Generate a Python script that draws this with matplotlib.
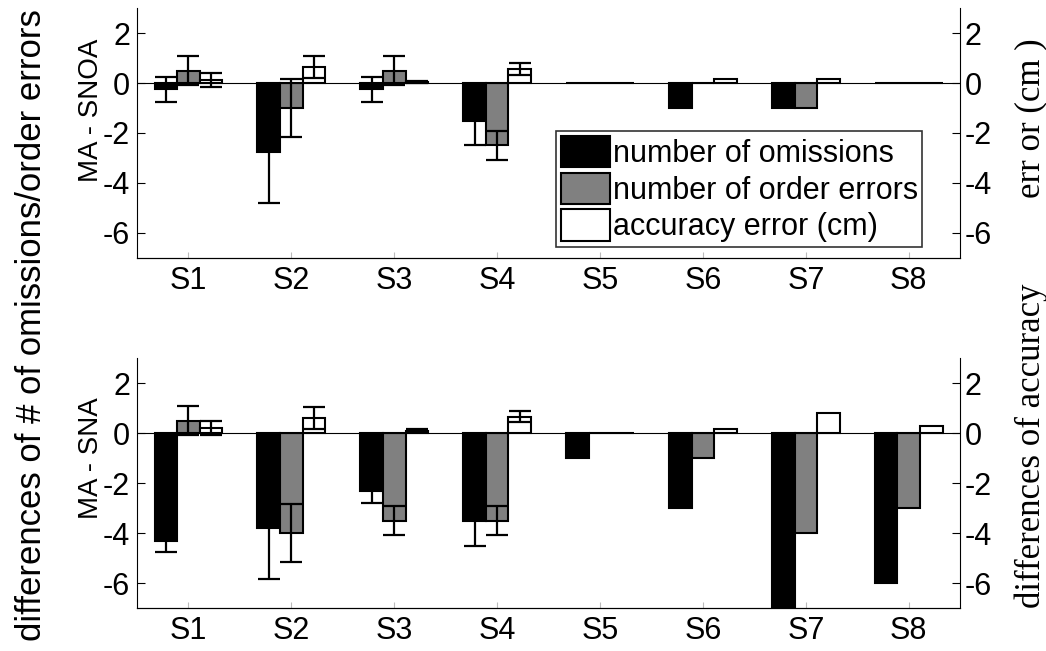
import matplotlib
matplotlib.use("Agg")
import matplotlib.pyplot as plt
import numpy as np
from matplotlib.patches import Patch

subjects = ["S1", "S2", "S3", "S4", "S5", "S6", "S7", "S8"]

# MA - SNOA (top)
snoa_omis = [-0.25, -2.75, -0.25, -1.5, 0, -1, -1, 0]
snoa_omis_err = [0.5, 2.05, 0.5, 1.0, 0, 0, 0, 0]
snoa_order = [0.5, -1.0, 0.5, -2.5, 0, 0, -1, 0]
snoa_order_err = [0.58, 1.15, 0.58, 0.58, 0, 0, 0, 0]
snoa_acc = [0.12, 0.65, 0.05, 0.55, 0.0, 0.15, 0.15, 0.0]
snoa_acc_err = [0.29, 0.45, 0.05, 0.24, 0, 0, 0, 0]

# MA - SNA (bottom)
sna_omis = [-4.3, -3.8, -2.33, -3.5, -1, -3, -7, -6]
sna_omis_err = [0.47, 2.05, 0.47, 1.0, 0, 0, 0, 0]
sna_order = [0.5, -4.0, -3.5, -3.5, 0, -1, -4, -3]
sna_order_err = [0.58, 1.15, 0.58, 0.58, 0, 0, 0, 0]
sna_acc = [0.2, 0.6, 0.1, 0.65, 0.0, 0.15, 0.8, 0.3]
sna_acc_err = [0.28, 0.44, 0.05, 0.22, 0, 0, 0, 0]

yticks = [2, 0, -2, -4, -6]

FS = 22
plt.rcParams['font.family'] = ['Liberation Sans', 'DejaVu Sans']

fig = plt.figure(figsize=(10.46, 6.51), dpi=100)

W = 0.22
x = np.arange(1, len(subjects) + 1)


def draw_panel(rect, omis, omis_err, order, order_err, acc, acc_err, show_legend):
    ax = fig.add_axes(rect)
    ax2 = ax.twinx()
    ekw = dict(ecolor='black', elinewidth=1.6, capsize=8, capthick=1.6)
    ax.bar(x - W, omis, W, color='black', edgecolor='black', linewidth=1.5,
           yerr=[e if e > 0 else np.nan for e in omis_err], error_kw=ekw, zorder=2)
    ax.bar(x, order, W, color='#808080', edgecolor='black', linewidth=1.5,
           yerr=[e if e > 0 else np.nan for e in order_err], error_kw=ekw, zorder=2)
    ax2.bar(x + W, acc, W, color='white', edgecolor='black', linewidth=1.5,
            yerr=[e if e > 0 else np.nan for e in acc_err], error_kw=ekw, zorder=2)
    ax.axhline(0, color='black', linewidth=0.8, zorder=3)
    for a in (ax, ax2):
        a.set_ylim(-7, 3)
        a.set_xlim(0.5, 8.5)
        a.set_yticks(yticks)
        a.set_yticklabels([str(t) for t in yticks])
        a.tick_params(axis='y', direction='in', length=6, labelsize=FS, width=0.8)
        a.spines['top'].set_visible(False)
    ax.spines['right'].set_visible(False)
    ax2.spines['left'].set_visible(False)
    ax.set_xticks(x)
    ax.set_xticklabels(subjects)
    ax.tick_params(axis='x', direction='in', length=4, labelsize=FS, color='#bbbbbb', pad=6)
    ax.tick_params(axis='y', pad=5)
    ax2.tick_params(axis='y', pad=3)
    if show_legend:
        handles = [Patch(facecolor='black', edgecolor='black', linewidth=1.5),
                   Patch(facecolor='#808080', edgecolor='black', linewidth=1.5),
                   Patch(facecolor='white', edgecolor='black', linewidth=1.5)]
        leg = ax2.legend(handles, ["number of omissions", "number of order errors",
                                   "accuracy error (cm)"],
                         loc='lower left', bbox_to_anchor=(0.5090, 0.045), fontsize=FS,
                         frameon=True, fancybox=False, edgecolor='black',
                         handlelength=1.6, handleheight=1.2, handletextpad=0.1,
                         borderpad=0.15, labelspacing=0.12, borderaxespad=0)
        leg.get_frame().set_linewidth(1.2)
        leg.set_zorder(10)
    return ax, ax2


draw_panel([0.131, 0.6037, 0.787, 0.384], snoa_omis, snoa_omis_err, snoa_order,
           snoa_order_err, snoa_acc, snoa_acc_err, True)
draw_panel([0.131, 0.066, 0.787, 0.384], sna_omis, sna_omis_err, sna_order,
           sna_order_err, sna_acc, sna_acc_err, False)

fig.text(91 / 1046, 1 - 110 / 651, "MA - SNOA", rotation=90, ha='center', va='center', fontsize=20)
fig.text(91 / 1046, 1 - 458 / 651, "MA - SNA", rotation=90, ha='center', va='center', fontsize=20)
fig.text(32 / 1046, 1 - 325 / 651, "differences of # of omissions/order errors",
         rotation=90, ha='center', va='center', fontsize=25)
fig.text(1031 / 1046, 1 - 118 / 651, "err or (cm )", rotation=90, ha='center', va='center',
         fontsize=25, family=['Liberation Serif', 'DejaVu Serif'])
fig.text(1031 / 1046, 1 - 446 / 651, "differences of accuracy", rotation=90, ha='center',
         va='center', fontsize=25, family=['Liberation Serif', 'DejaVu Serif'])

fig.savefig("out.png", dpi=100)
